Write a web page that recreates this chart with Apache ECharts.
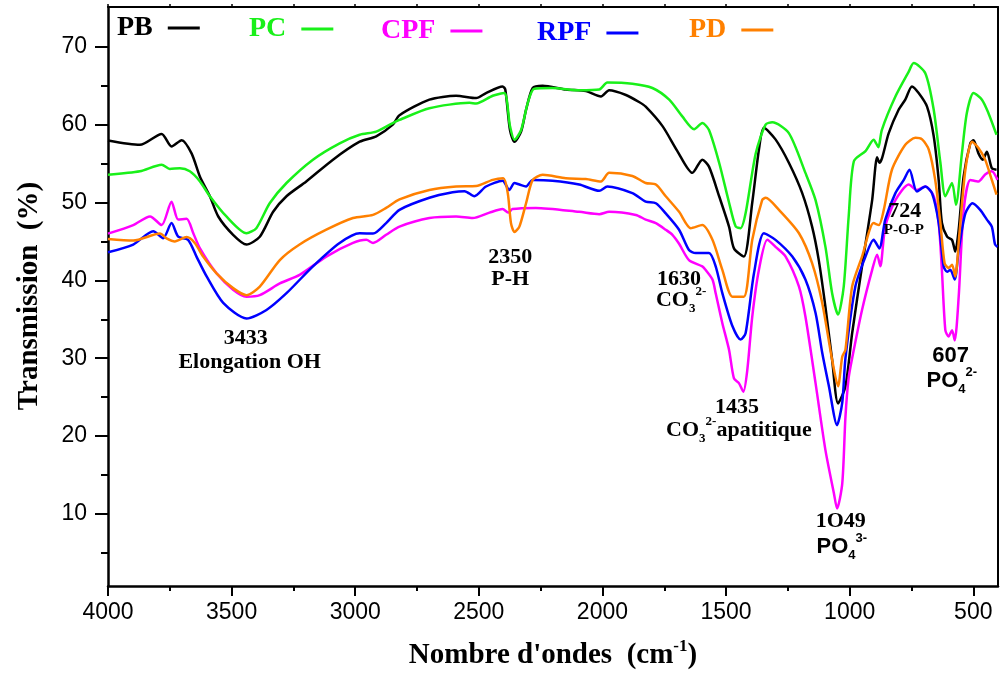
<!DOCTYPE html>
<html><head><meta charset="utf-8">
<script src="https://cdn.jsdelivr.net/npm/echarts@6/dist/echarts.min.js"></script>
<style>html,body{margin:0;padding:0;background:#fff}#c{width:1000px;height:675px}</style>
</head><body><div id="c"></div><script>
// ---------- data ----------
const seriesNames = ['PB', 'PC', 'CPF', 'RPF', 'PD'];

const pb = [[4000,57.96],[3871,57.4],[3783,58.8],[3743,57.2],[3702,58.0],[3662,56.3],[3628,53.3],[3588,50.8],[3554,48.2],[3494,45.85],[3440,44.6],[3386,45.6],[3332,48.8],[3278,50.8],[3198,52.7],[3090,55.5],[2982,57.8],[2915,58.5],[2848,60.0],[2821,61.2],[2700,63.2],[2592,63.7],[2511,63.4],[2471,64.05],[2404,64.9],[2393,64.5],[2374,59.3],[2356,57.8],[2329,59.1],[2309,61.9],[2282,64.7],[2242,65.0],[2148,64.5],[2067,64.3],[2006,63.6],[1973,64.4],[1905,63.8],[1852,62.9],[1825,62.3],[1757,59.8],[1697,56.6],[1636,53.8],[1596,55.5],[1569,54.6],[1528,50.8],[1488,46.9],[1468,44.1],[1428,43.05],[1394,50.0],[1367,56.8],[1347,59.6],[1300,58.1],[1246,55.1],[1192,51.2],[1152,46.9],[1125,42.6],[1098,36.6],[1071,29.8],[1047,24.2],[1017,26.4],[990,33.2],[950,41.8],[909,50.3],[889,55.8],[880,55.1],[869,55.7],[842,58.9],[802,61.9],[775,63.2],[748,64.9],[721,64.05],[687,62.3],[660,58.5],[640,52.9],[627,47.4],[606,45.6],[586,45.2],[573,43.7],[559,46.5],[539,53.35],[512,57.6],[499,58.0],[479,56.3],[462,55.5],[445,56.5],[425,54.4],[406,54.2]];

const pc = [[4000,53.56],[3871,54.0],[3783,54.85],[3750,54.3],[3709,54.4],[3669,54.0],[3628,52.7],[3588,50.8],[3521,48.2],[3440,46.05],[3400,46.7],[3346,49.9],[3278,52.5],[3171,55.5],[3063,57.6],[2982,58.7],[2915,59.1],[2848,60.2],[2821,60.6],[2700,62.1],[2538,62.8],[2511,62.7],[2444,63.7],[2397,64.05],[2374,59.8],[2356,58.05],[2329,59.3],[2302,62.8],[2276,64.6],[2202,64.7],[2094,64.4],[2013,64.5],[1980,65.4],[1879,65.25],[1798,64.7],[1730,63.2],[1677,61.05],[1629,59.4],[1596,60.2],[1569,59.3],[1528,55.1],[1488,50.0],[1461,46.9],[1441,46.7],[1421,48.6],[1380,56.3],[1340,60.0],[1313,60.3],[1246,58.9],[1179,53.8],[1138,50.3],[1098,44.3],[1071,38.35],[1047,35.6],[1024,39.2],[1004,48.2],[983,55.3],[936,56.6],[903,58.05],[884,57.1],[870,59.3],[815,63.6],[761,66.8],[741,67.9],[694,66.6],[660,61.9],[633,55.1],[613,50.8],[586,52.5],[570,49.7],[546,56.3],[526,61.5],[499,64.05],[465,63.2],[439,61.5],[406,58.7]];

const cpf = [[4000,46.0],[3898,47.1],[3830,48.2],[3783,47.1],[3743,50.1],[3716,47.8],[3682,47.9],[3655,46.05],[3628,44.1],[3561,40.9],[3494,38.8],[3440,37.9],[3386,38.1],[3305,39.6],[3225,40.7],[3117,43.05],[3009,44.8],[2955,45.2],[2928,44.8],[2875,45.85],[2821,46.9],[2700,48.0],[2592,48.2],[2525,48.0],[2457,48.7],[2404,49.15],[2380,48.7],[2364,49.15],[2269,49.3],[2094,48.8],[2013,48.5],[1973,48.8],[1865,48.4],[1825,47.8],[1784,47.35],[1744,46.5],[1717,45.85],[1690,44.7],[1650,42.6],[1596,41.8],[1583,41.35],[1555,40.1],[1542,38.35],[1515,34.5],[1488,31.1],[1468,27.4],[1448,26.8],[1430,25.7],[1414,28.5],[1394,35.35],[1367,41.35],[1333,45.2],[1300,44.3],[1259,43.05],[1205,39.2],[1179,35.35],[1138,26.8],[1098,18.2],[1064,12.7],[1051,10.7],[1030,13.9],[1017,22.5],[1004,27.5],[990,30.0],[950,36.2],[909,41.35],[889,43.3],[876,41.8],[856,46.9],[815,50.3],[761,52.3],[728,51.6],[694,52.05],[660,50.8],[640,47.4],[627,41.35],[613,33.6],[600,32.8],[586,33.6],[575,32.3],[559,37.9],[539,49.0],[512,52.9],[479,52.7],[452,53.6],[425,54.0],[402,52.9]];

const rpf = [[4000,43.6],[3898,44.6],[3817,46.3],[3777,45.4],[3743,47.35],[3716,45.6],[3676,45.2],[3642,43.05],[3601,40.5],[3534,37.1],[3440,35.1],[3359,36.2],[3278,38.35],[3171,41.8],[3063,44.8],[2982,46.05],[2928,46.0],[2875,47.35],[2821,49.05],[2700,50.6],[2606,51.3],[2558,51.45],[2518,50.8],[2471,52.05],[2404,52.8],[2377,51.6],[2356,52.5],[2336,52.3],[2309,52.05],[2282,52.9],[2202,52.8],[2094,52.3],[2013,51.5],[1980,52.05],[1879,51.2],[1825,50.1],[1784,49.9],[1744,48.6],[1690,46.5],[1650,43.9],[1623,43.5],[1569,43.5],[1542,41.8],[1515,38.35],[1474,34.1],[1441,32.4],[1421,33.2],[1387,40.9],[1347,46.05],[1300,45.2],[1232,43.05],[1179,40.1],[1138,35.8],[1111,30.7],[1084,26.4],[1051,21.4],[1030,24.3],[1017,30.0],[977,39.2],[936,43.05],[903,45.2],[880,44.1],[856,47.8],[815,51.2],[781,52.9],[758,54.2],[728,51.4],[694,52.05],[667,51.2],[640,47.4],[620,41.8],[606,41.1],[593,41.35],[575,40.1],[559,43.9],[532,48.6],[503,49.9],[472,49.05],[445,47.8],[425,46.9],[412,44.6],[402,44.3]];

const pd = [[4000,45.3],[3898,45.1],[3790,46.0],[3763,45.4],[3730,45.0],[3682,45.55],[3649,44.8],[3615,43.05],[3561,40.9],[3494,39.0],[3440,38.1],[3386,39.2],[3305,42.6],[3225,44.6],[3117,46.5],[3009,48.0],[2928,48.4],[2875,49.3],[2821,50.4],[2700,51.6],[2592,52.05],[2511,52.1],[2444,52.9],[2401,53.1],[2383,51.2],[2370,47.35],[2356,46.2],[2336,46.9],[2309,49.9],[2282,52.9],[2242,53.55],[2148,53.1],[2067,53.0],[2006,52.7],[1973,53.8],[1879,53.4],[1825,52.5],[1784,52.3],[1744,50.8],[1690,48.8],[1643,46.7],[1596,47.1],[1555,45.2],[1515,41.35],[1474,37.9],[1428,37.9],[1394,45.2],[1354,50.3],[1340,50.6],[1286,49.05],[1205,46.05],[1152,42.2],[1111,37.1],[1071,29.8],[1047,26.4],[1030,30.2],[1017,31.1],[990,39.2],[950,43.05],[903,47.35],[882,47.1],[862,49.05],[829,54.2],[775,57.4],[734,58.3],[707,58.1],[680,56.8],[654,52.9],[633,47.35],[616,42.2],[600,41.6],[586,42.0],[573,40.5],[557,45.6],[532,54.2],[505,57.8],[479,57.0],[452,55.5],[425,52.9],[406,51.0]];

const xMajorTicks = [4000, 3500, 3000, 2500, 2000, 1500, 1000, 500];
const xMinorTicks = [3750, 3250, 2750, 2250, 1750, 1250, 750];
const yMajorTicks = [10, 20, 30, 40, 50, 60, 70];
const yMinorTicks = [5, 15, 25, 35, 45, 55, 65];

const xTitle = ["Nombre d'ondes  (cm", "-1", ")"];
const yTitle = 'Transmission  (%)';

// annotation anchors in data units: [wavenumber, transmission, text]
const annSerif = [[3443, 32.6, '3433'], [3427, 29.5, 'Elongation OH'], [2373, 43.0, '2350'], [2373, 40.1, 'P-H'],
  [1690, 40.1, '1630'], [1456, 23.75, '1435'], [1036, 9.1, '1O49'], [777, 48.9, '724']];
const annSmall = [[781, 46.5, 'P-O-P']];
const annSans = [[592, 30.3, '607']];
const annCO3 = [[1682, 37.4, ''], [1448, 20.8, 'apatitique']];
const annPO4 = [[1032, 5.8, '3-'], [587, 27.1, '2-']];

// ---------- chart ----------
const colors = ['#000000', '#19f019', '#ff00ff', '#0000ff', '#ff8000'];
const SERIF = "'Liberation Serif','Times New Roman',serif";
const SANS = "'Liberation Sans',Arial,sans-serif";
const chart = echarts.init(document.getElementById('c'), null, {renderer: 'canvas'});

const X = {min: 400, max: 4000, inverse: true};
const Y = {min: 0.75, max: 75.1};
function axisBase(extra) {
  return Object.assign({type: 'value', splitLine: {show: false}, axisLine: {show: false, onZero: false}}, extra);
}
const legendLeft = [117, 249, 381, 537, 689];
const legendTop = [14, 15, 17, 19, 16];
const plain = v => String(v);

const option = {
  animation: false,
  backgroundColor: '#fff',
  grid: {left: 108, right: 2, top: 7, bottom: 89, containLabel: false},
  xAxis: [
    axisBase(Object.assign({position: 'bottom',
      axisLine: {show: true, onZero: false, lineStyle: {color: '#000', width: 2.5}},
      axisTick: {show: true, customValues: xMajorTicks, length: 10, lineStyle: {color: '#000', width: 2}},
      axisLabel: {show: true, customValues: xMajorTicks, formatter: plain, color: '#000', fontFamily: SANS, fontSize: 23, margin: 15}}, X)),
    axisBase(Object.assign({position: 'bottom',
      axisTick: {show: true, customValues: xMinorTicks, length: 5, lineStyle: {color: '#000', width: 2}},
      axisLabel: {show: false}}, X)),
    axisBase(Object.assign({position: 'top',
      axisLine: {show: true, onZero: false, lineStyle: {color: '#000', width: 2}},
      axisTick: {show: true, customValues: xMajorTicks.concat(xMinorTicks), length: 3, lineStyle: {color: '#000', width: 1.5}},
      axisLabel: {show: false}}, X))
  ],
  yAxis: [
    axisBase(Object.assign({position: 'left',
      axisLine: {show: true, onZero: false, lineStyle: {color: '#000', width: 2.5}},
      axisTick: {show: true, customValues: yMajorTicks, length: 13, lineStyle: {color: '#000', width: 2}},
      axisLabel: {show: true, customValues: yMajorTicks, formatter: plain, color: '#000', fontFamily: SANS, fontSize: 23, margin: 21}}, Y)),
    axisBase(Object.assign({position: 'left',
      axisTick: {show: true, customValues: yMinorTicks, length: 7, lineStyle: {color: '#000', width: 2}},
      axisLabel: {show: false}}, Y)),
    axisBase(Object.assign({position: 'right',
      axisLine: {show: true, onZero: false, lineStyle: {color: '#000', width: 2}},
      axisTick: {show: false}, axisLabel: {show: false}}, Y))
  ],
  legend: seriesNames.map((n, i) => ({
    data: [n], left: legendLeft[i], top: legendTop[i], align: 'right', padding: 0,
    icon: 'rect', itemWidth: 32, itemHeight: 3, selectedMode: false,
    textStyle: {color: colors[i], fontFamily: SERIF, fontWeight: 'bold', fontSize: 28, padding: [0, 10, 0, 0]}
  })),
  series: [pb, pc, cpf, rpf, pd].map((d, i) => ({
    name: seriesNames[i], type: 'line', data: d, xAxisIndex: 0, yAxisIndex: 0,
    showSymbol: false, symbol: 'none', smooth: 0.25, clip: true,
    lineStyle: {color: colors[i], width: 2.5}, itemStyle: {color: colors[i]}
  }))
};
chart.setOption(option);

function px(w, v) { return chart.convertToPixel({xAxisIndex: 0, yAxisIndex: 0}, [w, v]); }
const graphics = [];
function addText(w, v, text, style) {
  const p = px(w, v);
  graphics.push({type: 'text', x: p[0], y: p[1], z: 100,
    style: Object.assign({text: text, align: 'center', verticalAlign: 'middle', fill: '#000'}, style)});
}
annSerif.forEach(a => addText(a[0], a[1], a[2], {font: 'bold 22px ' + SERIF}));
annSmall.forEach(a => addText(a[0], a[1], a[2], {font: 'bold 15px ' + SERIF}));
annSans.forEach(a => addText(a[0], a[1], a[2], {font: 'bold 22px ' + SANS}));
const subSupRich = (fam) => ({
  m: {fontFamily: fam, fontWeight: 'bold', fontSize: 22, lineHeight: 30, fill: '#000'},
  sub: {fontFamily: fam, fontWeight: 'bold', fontSize: 13, lineHeight: 13, verticalAlign: 'bottom', fill: '#000'},
  sup: {fontFamily: fam, fontWeight: 'bold', fontSize: 13, lineHeight: 13, verticalAlign: 'top', fill: '#000'}
});
annCO3.forEach(a => addText(a[0], a[1], '{m|CO}{sub|3}{sup|2-}' + (a[2] ? '{m|' + a[2] + '}' : ''), {rich: subSupRich(SERIF)}));
annPO4.forEach(a => addText(a[0], a[1], '{m|PO}{sub|4}{sup|' + a[2] + '}', {rich: subSupRich(SANS)}));

// axis titles
graphics.push({type: 'text', x: 553, y: 656, z: 100, style: {
  text: '{t|' + xTitle[0] + '}{s|' + xTitle[1] + '}{t|' + xTitle[2] + '}', align: 'center', verticalAlign: 'middle',
  rich: {t: {fontFamily: SERIF, fontWeight: 'bold', fontSize: 29, lineHeight: 36, fill: '#000'},
         s: {fontFamily: SERIF, fontWeight: 'bold', fontSize: 17, lineHeight: 17, verticalAlign: 'top', fill: '#000'}}}});
graphics.push({type: 'text', x: 30, y: 296, rotation: Math.PI / 2, z: 100, style: {
  text: yTitle, align: 'center', verticalAlign: 'middle', font: 'bold 29px ' + SERIF, fill: '#000'}});
chart.setOption({graphic: graphics});
</script></body></html>
